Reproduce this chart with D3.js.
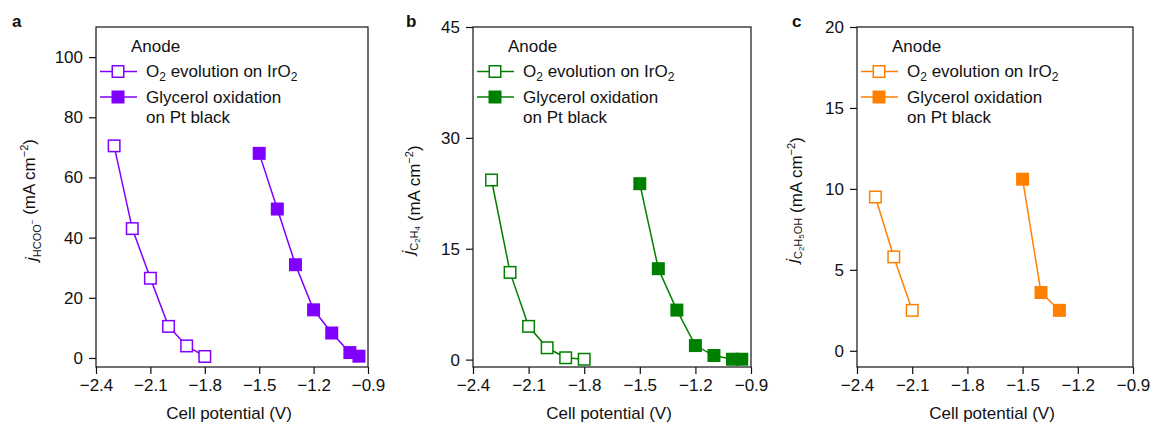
<!DOCTYPE html>
<html>
<head>
<meta charset="utf-8">
<script src="https://cdn.jsdelivr.net/npm/d3@7"></script>
<style>
  body { margin: 0; background: #fff; }
  svg text { font-family: "Liberation Sans", Arial, Helvetica, sans-serif; fill: #111; }
</style>
</head>
<body>
<div id="chart"></div>
<script>
// shared x ticks (cell potential, V)
const xTicks = [-2.4, -2.1, -1.8, -1.5, -1.2, -0.9];

// panel a - formate
const aO2Volt = [-2.3, -2.2, -2.1, -2.0, -1.9, -1.8];
const aO2Cur = [70.5, 43, 26.5, 10.5, 4, 0.5];
const aGlyVolt = [-1.5, -1.4, -1.3, -1.2, -1.1, -1.0, -0.95];
const aGlyCur = [68, 49.5, 31, 16, 8.3, 1.8, 0.6];
const aYTicks = [0, 20, 40, 60, 80, 100];

// panel b - ethylene
const bO2Volt = [-2.3, -2.2, -2.1, -2.0, -1.9, -1.8];
const bO2Cur = [24.3, 11.8, 4.5, 1.6, 0.25, 0.05];
const bGlyVolt = [-1.5, -1.4, -1.3, -1.2, -1.1, -1.0, -0.95];
const bGlyCur = [23.8, 12.3, 6.7, 1.9, 0.55, 0.05, 0.05];
const bYTicks = [0, 15, 30, 45];

// panel c - ethanol
const cO2Volt = [-2.3, -2.2, -2.1];
const cO2Cur = [9.5, 5.8, 2.5];
const cGlyVolt = [-1.5, -1.4, -1.3];
const cGlyCur = [10.6, 3.6, 2.5];
const cYTicks = [0, 5, 10, 15, 20];

const svg = d3.select("#chart").append("svg")
    .attr("width", 1150)
    .attr("height", 423);

const plotTop = 27, plotBottom = 367;
const fs = "17px";

function zip(xs, ys) { return xs.map((x, i) => ({ v: x, j: ys[i] })); }

function drawPanel(p) {
    const x = d3.scaleLinear().domain([-2.4, -0.9]).range([p.left, p.right]);
    const y = d3.scaleLinear().domain(p.yDomain).range([plotBottom, plotTop]);

    // panel letter
    svg.append("text")
        .attr("x", p.letterX).attr("y", 27)
        .style("font-size", "17px").style("font-weight", "bold")
        .text(p.letter);

    // axes
    const xa = svg.append("g")
        .attr("transform", `translate(0,${plotBottom})`)
        .call(d3.axisBottom(x).tickValues(xTicks).tickSize(7).tickSizeOuter(0)
            .tickPadding(5).tickFormat(d3.format(".1f")));
    const ya = svg.append("g")
        .attr("transform", `translate(${p.left},0)`)
        .call(d3.axisLeft(y).tickValues(p.yTicks).tickSize(7).tickSizeOuter(0).tickPadding(6));
    [xa, ya].forEach(a => {
        a.select(".domain").remove();
        a.selectAll("line").attr("stroke", "#111").attr("stroke-width", 1.2);
        a.selectAll("text").style("font-size", fs).attr("fill", "#111")
            .attr("font-family", null);
    });

    // frame
    svg.append("rect")
        .attr("x", p.left).attr("y", plotTop)
        .attr("width", p.right - p.left).attr("height", plotBottom - plotTop)
        .attr("fill", "none").attr("stroke", "#111").attr("stroke-width", 1.2);

    // x title
    svg.append("text")
        .attr("x", (p.left + p.right) / 2 - 3).attr("y", 419)
        .attr("text-anchor", "middle").style("font-size", fs)
        .text("Cell potential (V)");

    // y title
    const yt = svg.append("text")
        .attr("transform", `translate(${p.left - 59},${(plotTop + plotBottom) / 2 + 3}) rotate(-90)`)
        .attr("text-anchor", "middle").style("font-size", fs);
    yt.append("tspan").style("font-style", "italic").text("j");
    p.ySub(yt);
    yt.append("tspan").text(" (mA cm");
    yt.append("tspan").attr("dy", -7).style("font-size", "11px").text("−2");
    yt.append("tspan").attr("dy", 7).text(")");

    const line = d3.line().x(d => x(d.v)).y(d => y(d.j));
    const sz = 13;

    [{ data: zip(p.o2v, p.o2j), open: true }, { data: zip(p.glv, p.glj), open: false }].forEach(s => {
        svg.append("path").datum(s.data)
            .attr("d", line).attr("fill", "none")
            .attr("stroke", p.color).attr("stroke-width", 1.5);
        svg.selectAll(null).data(s.data).enter().append("rect")
            .attr("x", d => x(d.v) - sz / 2).attr("y", d => y(d.j) - sz / 2)
            .attr("width", s.open ? sz - 1.5 : sz).attr("height", s.open ? sz - 1.5 : sz)
            .attr("transform", s.open ? "translate(0.75,0.75)" : null)
            .attr("fill", s.open ? "#fff" : p.color)
            .attr("stroke", p.color).attr("stroke-width", s.open ? 1.5 : 0);
    });

    // legend
    const L = p.left;
    svg.append("text").attr("x", L + 35).attr("y", 51.5).style("font-size", fs).text("Anode");
    [{ yy: 71.5, open: true }, { yy: 97, open: false }].forEach(r => {
        svg.append("line").attr("x1", L + 4).attr("x2", L + 41)
            .attr("y1", r.yy).attr("y2", r.yy)
            .attr("stroke", p.color).attr("stroke-width", 1.5);
        svg.append("rect")
            .attr("x", L + 22 - sz / 2 + (r.open ? 0.75 : 0)).attr("y", r.yy - sz / 2 + (r.open ? 0.75 : 0))
            .attr("width", r.open ? sz - 1.5 : sz).attr("height", r.open ? sz - 1.5 : sz)
            .attr("fill", r.open ? "#fff" : p.color)
            .attr("stroke", p.color).attr("stroke-width", r.open ? 1.5 : 0);
    });
    const t1 = svg.append("text").attr("x", L + 50).attr("y", 77).style("font-size", fs);
    t1.append("tspan").text("O");
    t1.append("tspan").attr("dy", 4).style("font-size", "12px").text("2");
    t1.append("tspan").attr("dy", -4).text(" evolution on IrO");
    t1.append("tspan").attr("dy", 4).style("font-size", "12px").text("2");
    svg.append("text").attr("x", L + 50).attr("y", 103).style("font-size", fs).text("Glycerol oxidation");
    svg.append("text").attr("x", L + 50).attr("y", 123).style("font-size", fs).text("on Pt black");
}

function subHCOO(t) {
    t.append("tspan").attr("dy", 4).style("font-size", "11px").text("HCOO");
    t.append("tspan").attr("dy", -6).style("font-size", "8px").text("−");
    t.append("tspan").attr("dy", 2).text("");
}
function subC2H4(t) {
    t.append("tspan").attr("dy", 4).style("font-size", "11px").text("C");
    t.append("tspan").attr("dy", 2).style("font-size", "8px").text("2");
    t.append("tspan").attr("dy", -2).style("font-size", "11px").text("H");
    t.append("tspan").attr("dy", 2).style("font-size", "8px").text("4");
    t.append("tspan").attr("dy", -6).text("");
}
function subC2H5OH(t) {
    t.append("tspan").attr("dy", 4).style("font-size", "11px").text("C");
    t.append("tspan").attr("dy", 2).style("font-size", "8px").text("2");
    t.append("tspan").attr("dy", -2).style("font-size", "11px").text("H");
    t.append("tspan").attr("dy", 2).style("font-size", "8px").text("5");
    t.append("tspan").attr("dy", -2).style("font-size", "11px").text("OH");
    t.append("tspan").attr("dy", -4).text("");
}

drawPanel({ letter: "a", letterX: 12, left: 96, right: 368, yDomain: [-3, 110], yTicks: aYTicks,
    color: "#8000ff", o2v: aO2Volt, o2j: aO2Cur, glv: aGlyVolt, glj: aGlyCur, ySub: subHCOO });
drawPanel({ letter: "b", letterX: 406, left: 473, right: 751, yDomain: [-1, 45], yTicks: bYTicks,
    color: "#008000", o2v: bO2Volt, o2j: bO2Cur, glv: bGlyVolt, glj: bGlyCur, ySub: subC2H4 });
drawPanel({ letter: "c", letterX: 792, left: 857, right: 1133, yDomain: [-1, 20], yTicks: cYTicks,
    color: "#ff8000", o2v: cO2Volt, o2j: cO2Cur, glv: cGlyVolt, glj: cGlyCur, ySub: subC2H5OH });
</script>
</body>
</html>
